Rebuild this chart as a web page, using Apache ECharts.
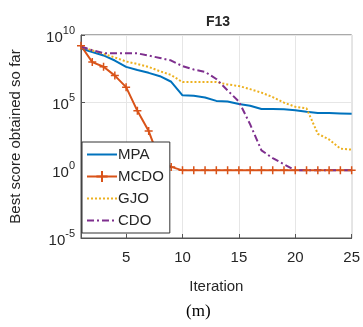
<!DOCTYPE html>
<html><head><meta charset="utf-8">
<script src="https://cdn.jsdelivr.net/npm/echarts@6/dist/echarts.min.js"></script>
<style>html,body{margin:0;padding:0;background:#fff}#c{width:363px;height:327px}</style>
</head><body><div id="c"></div>
<script>
const iterations = [1,2,3,4,5,6,7,8,9,10,11,12,13,14,15,16,17,18,19,20,21,22,23,24,25];
const MPA  = [1.0e9,5.5e8,3.1e8,1.3e8,4.4e7,2.6e7,1.6e7,9e6,3.5e6,3.5e5,3.2e5,2.4e5,1.35e5,1.2e5,8e4,6e4,3.4e4,3.4e4,3.2e4,2.8e4,2.1e4,1.7e4,1.7e4,1.6e4,1.5e4];
const MCDO = [1.6e9,1e8,4.5e7,1e7,1.4e6,2.5e4,8e2,5,1.8,1,1,1,1,1,1,1,1,1,1,1,1,1,1,1,1];
const GJO  = [1.4e9,7.2e8,4e8,2.2e8,1.1e8,7.2e7,4.4e7,2.1e7,1.1e7,3.3e6,3.3e6,3.3e6,3.3e6,2.2e6,1.7e6,1e6,5.5e5,2.6e5,1e5,5e4,3.8e4,5e2,1.9e2,40,34];
const CDO  = [1.4e9,7.5e8,4.5e8,4.5e8,4.5e8,4.4e8,3e8,2e8,1.3e8,5e7,2.8e7,1.9e7,5.6e6,8e5,1.2e5,2.5e3,30,8,2.8,1,1,1,1,1,1];
const xTicks = [5,10,15,20,25];
const yTicks = [1e-5,1,1e5,1e10];
const seriesNames = ['MPA','MCDO','GJO','CDO'];

const font = 'Liberation Sans, Arial, sans-serif';
const txt = '#262626';
const plus = 'path://M0,5L10,5M5,0L5,10';
function pairs(arr){ return iterations.map((x,i)=>[x,arr[i]]); }

const chart = echarts.init(document.getElementById('c'));
chart.setOption({
  animation:false,
  title:{text:'F13',left:213,textAlign:'center',top:10,textStyle:{fontFamily:font,fontSize:14,fontWeight:'bold',color:txt}},
  grid:{left:75,right:11,top:35,bottom:89,show:true,borderColor:'#555',borderWidth:1},
  legend:{orient:'vertical',left:82,top:142,backgroundColor:'#fff',borderColor:'#333',borderWidth:1,
    padding:[5,6,5,4],itemGap:7,itemWidth:30,itemHeight:14,
    textStyle:{fontFamily:font,fontSize:15,color:txt,padding:[0,0,0,-4]},
    data:[{name:seriesNames[0],itemStyle:{opacity:0}},{name:seriesNames[1]},{name:seriesNames[2],itemStyle:{opacity:0}},{name:seriesNames[3],itemStyle:{opacity:0}}]},
  xAxis:{type:'value',min:1,max:25,name:'Iteration',nameLocation:'middle',nameGap:41,
    nameTextStyle:{fontFamily:font,fontSize:15,color:txt},
    axisLine:{show:true,lineStyle:{color:'#555'}},
    axisTick:{show:true,inside:true,length:4,customValues:xTicks,lineStyle:{color:'#555'}},
    axisLabel:{customValues:xTicks,fontFamily:font,fontSize:15,color:txt,margin:12},
    splitLine:{show:true,lineStyle:{color:'#e6e6e6',width:1}}},
  yAxis:{type:'log',logBase:10,min:1e-5,max:1e10,name:'Best score obtained so far',nameLocation:'middle',nameGap:58,
    nameTextStyle:{fontFamily:font,fontSize:15,color:txt},
    axisLine:{show:true,lineStyle:{color:'#555'}},
    axisTick:{show:true,inside:true,length:4,customValues:yTicks,lineStyle:{color:'#555'}},
    axisLabel:{customValues:yTicks,margin:6,fontFamily:font,color:txt,
      formatter:function(v){const e=Math.round(Math.log10(v));return '{b|10}{s|'+e+'}';},
      rich:{b:{fontFamily:font,fontSize:15,color:txt,lineHeight:20,verticalAlign:'bottom'},
            s:{fontFamily:font,fontSize:11,color:txt,lineHeight:20,verticalAlign:'top'}}},
    splitLine:{show:true,lineStyle:{color:'#e6e6e6',width:1}},
    minorTick:{show:false}},
  series:[
    {name:seriesNames[0],type:'line',data:pairs(MPA),symbol:'none',lineStyle:{color:'#0072BD',width:2},itemStyle:{color:'#0072BD'}},
    {name:seriesNames[1],type:'line',data:pairs(MCDO),symbol:plus,symbolSize:8,showSymbol:true,
      lineStyle:{color:'#D95319',width:2},itemStyle:{color:'#D95319',borderColor:'#D95319',borderWidth:1.5}},
    {name:seriesNames[2],type:'line',data:pairs(GJO),symbol:'none',lineStyle:{color:'#EDB120',width:2,type:[2,2]},itemStyle:{color:'#EDB120'}},
    {name:seriesNames[3],type:'line',data:pairs(CDO),symbol:'none',lineStyle:{color:'#7E2F8E',width:2,type:[7,3,2,3]},itemStyle:{color:'#7E2F8E'}}
  ],
  graphic:[{type:'text',left:186,top:303,style:{text:'(m)',font:'17px "Liberation Serif", "Times New Roman", serif',fill:'#000'}}]
});
</script></body></html>
